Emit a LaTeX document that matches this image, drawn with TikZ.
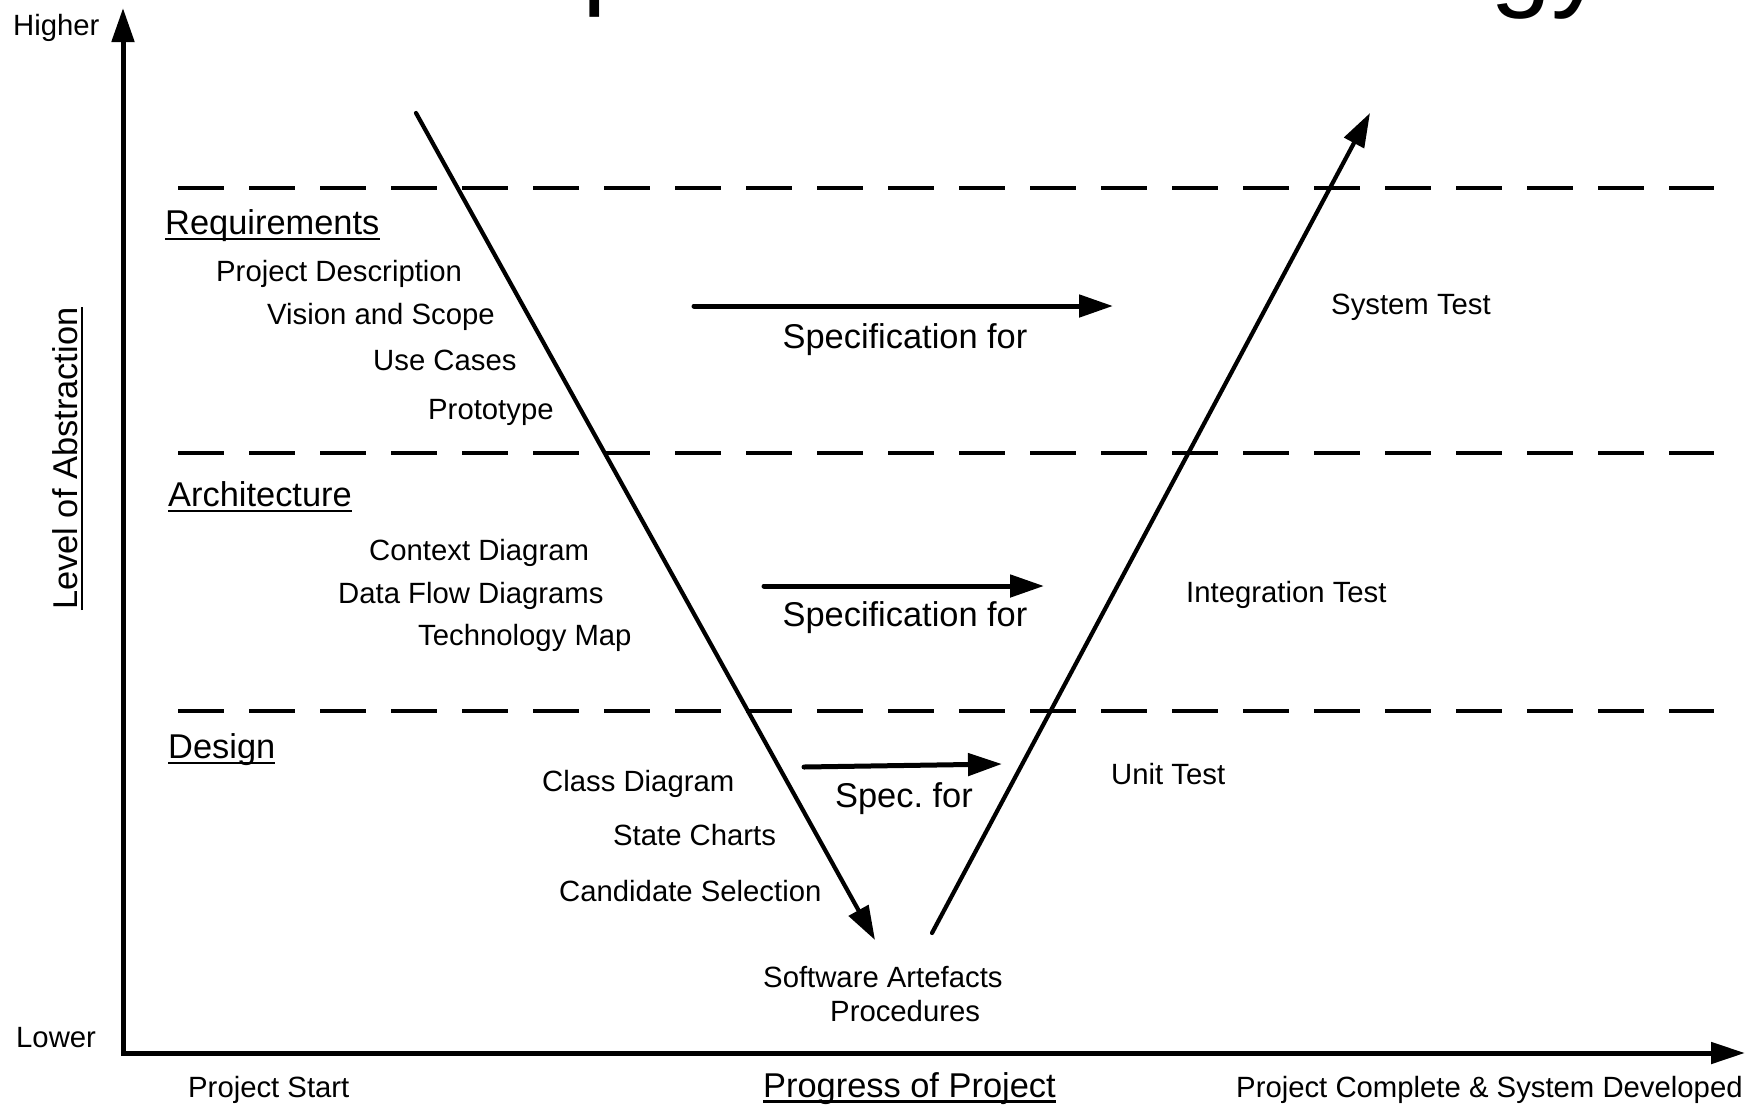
\documentclass[tikz,border=0pt]{standalone}
\usepackage{fontspec}
\setmainfont{Liberation Sans}
\usetikzlibrary{arrows.meta}
\frenchspacing
\begin{document}
\begin{tikzpicture}[x=1pt,y=-1pt,
  sm/.style={font=\fontsize{29.3}{35}\selectfont, inner sep=0pt, anchor=base west},
  lg/.style={font=\fontsize{34.4}{41}\selectfont, inner sep=0pt, anchor=base west},
  spectext/.style={font=\fontsize{34.4}{41}\selectfont, inner sep=0pt, anchor=base},
  titlefrag/.style={font=\fontsize{110}{120}\selectfont, inner sep=0pt, anchor=base west},
  axisline/.style={line width=5pt, line join=miter, {Triangle[length=34pt,width=22pt]}-{Triangle[length=34pt,width=21pt]}},
  vline/.style={line width=4.2pt, line cap=round, -{Triangle[length=34pt,width=22pt]}},
  specarrow/.style={line width=5pt, line cap=round, -{Triangle[length=34pt,width=22pt]}},
  levelline/.style={line width=3.5pt, dash pattern=on 46pt off 25pt},
  uline/.style={line width=2.2pt}]
\useasboundingbox (0,0) rectangle (1757,1104);
\fill[white] (0,0) rectangle (1757,1104);

% title fragments (cut off at the top)
\node[titlefrag] (tp) at (582,-6) {p};
\node[titlefrag] (tgy) at (1490,-4) {gy};

% axes
\coordinate (ytop) at (123,8);
\coordinate (orig) at (123,1053);
\coordinate (xend) at (1745,1053);
\draw[axisline] (ytop) -- (orig) -- (xend);

% dashed level lines
\coordinate (d1a) at (178,188); \coordinate (d1b) at (1714,188);
\coordinate (d2a) at (178,453); \coordinate (d2b) at (1714,453);
\coordinate (d3a) at (178,711); \coordinate (d3b) at (1714,711);
\draw[levelline] (d1a) -- (d1b);
\draw[levelline] (d2a) -- (d2b);
\draw[levelline] (d3a) -- (d3b);

% V lines
\coordinate (vls) at (416,113);
\coordinate (vle) at (875,940);
\coordinate (vrs) at (932,933);
\coordinate (vre) at (1370,113);
\draw[vline] (vls) -- (vle);
\draw[vline] (vrs) -- (vre);

% specification arrows
\coordinate (s1a) at (694,306); \coordinate (s1b) at (1113,306);
\coordinate (s2a) at (764,586); \coordinate (s2b) at (1044,586);
\coordinate (s3a) at (804,767); \coordinate (s3b) at (1002,764);
\draw[specarrow] (s1a) -- (s1b);
\draw[specarrow] (s2a) -- (s2b);
\draw[specarrow] (s3a) -- (s3b);
\node[spectext] (sp1) at (905,348) {Specification for};
\node[spectext] (sp2) at (905,626) {Specification for};
\node[spectext] (sp3) at (904,807) {Spec. for};

% axis labels
\node[sm] (higher) at (13,35) {Higher};
\node[sm] (lower) at (16,1047) {Lower};
\node[sm] (pstart) at (188,1097) {Project Start};
\node[lg] (progress) at (763,1097) {Progress of Project};
\draw[uline] ([yshift=-4.5pt]progress.base west) -- ([yshift=-4.5pt]progress.base east);
\node[sm] (pend) at (1236,1097) {Project Complete \& System Developed};
\node[lg, rotate=90] (level) at (77,610) {Level of Abstraction};
\draw[uline] ([xshift=5pt]level.base west) -- ([xshift=5pt]level.base east);

% requirements
\node[lg] (req) at (165,234) {Requirements};
\draw[uline] ([yshift=-5pt]req.base west) -- ([yshift=-5pt]req.base east);
\node[sm] (pd) at (216,281) {Project Description};
\node[sm] (vs) at (267,324) {Vision and Scope};
\node[sm] (uc) at (373,370) {Use Cases};
\node[sm] (pt) at (428,419) {Prototype};

% architecture
\node[lg] (arch) at (168,506) {Architecture};
\draw[uline] ([yshift=-5pt]arch.base west) -- ([yshift=-5pt]arch.base east);
\node[sm] (cd) at (369,560) {Context Diagram};
\node[sm] (dfd) at (338,603) {Data Flow Diagrams};
\node[sm] (tm) at (418,645) {Technology Map};

% design
\node[lg] (des) at (168,758) {Design};
\draw[uline] ([yshift=-5pt]des.base west) -- ([yshift=-5pt]des.base east);
\node[sm] (cld) at (542,791) {Class Diagram};
\node[sm] (sc) at (613,845) {State Charts};
\node[sm] (cs) at (559,901) {Candidate Selection};

% tests
\node[sm] (st) at (1331,314) {System Test};
\node[sm] (it) at (1186,602) {Integration Test};
\node[sm] (ut) at (1111,784) {Unit Test};

% bottom of V
\node[sm] (sa) at (763,987) {Software Artefacts};
\node[sm] (proc) at (830,1021) {Procedures};
\end{tikzpicture}
\end{document}
